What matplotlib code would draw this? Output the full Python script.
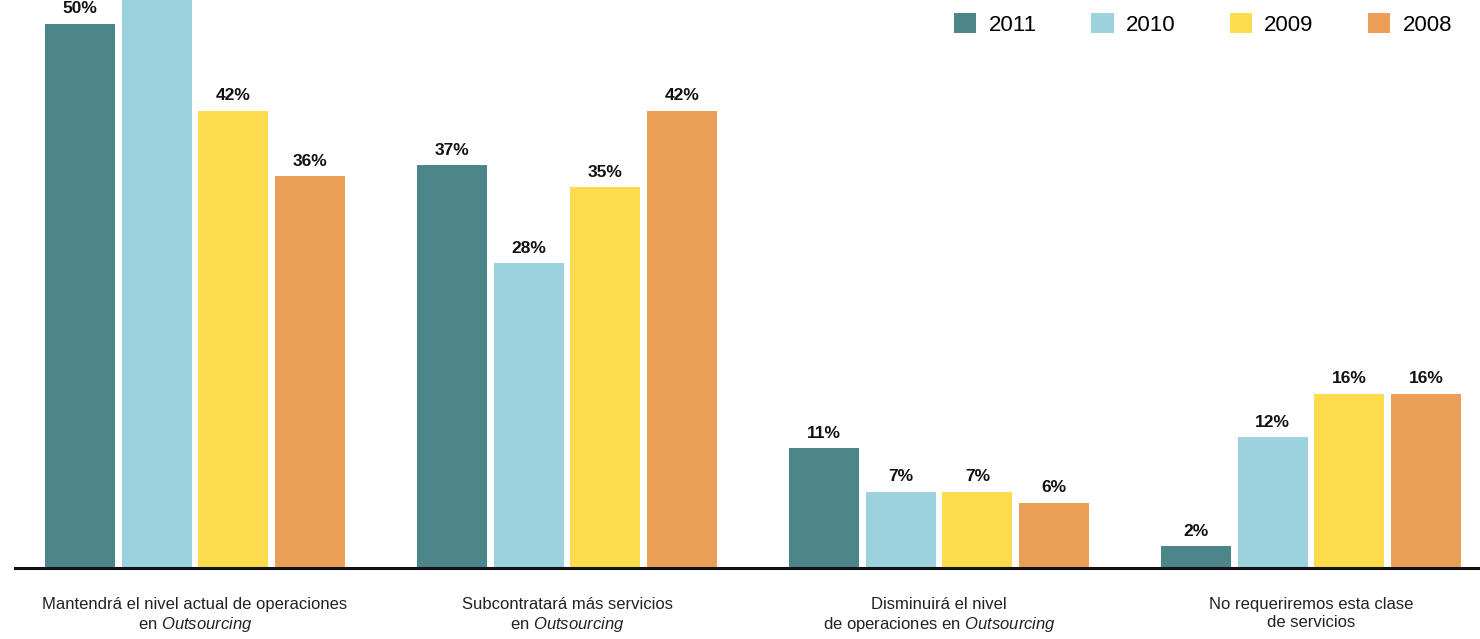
import matplotlib
matplotlib.use('Agg')
import matplotlib.pyplot as plt
import numpy as np
from matplotlib.patches import Patch

categories = [
    'Mantendrá el nivel actual de operaciones\nen $\\mathit{Outsourcing}$',
    'Subcontratará más servicios\nen $\\mathit{Outsourcing}$',
    'Disminuirá el nivel\nde operaciones en $\\mathit{Outsourcing}$',
    'No requeriremos esta clase\nde servicios',
]
years = ['2011', '2010', '2009', '2008']
v2011 = [50, 37, 11, 2]
v2010 = [55, 28, 7, 12]
v2009 = [42, 35, 7, 16]
v2008 = [36, 42, 6, 16]
series = [v2011, v2010, v2009, v2008]
colors = ['#4C868B', '#9BD2DE', '#FEDC4E', '#EB9F57']

font = 'Liberation Sans'
plt.rcParams['font.family'] = [font, 'DejaVu Sans']
plt.rcParams['mathtext.fontset'] = 'custom'
plt.rcParams['mathtext.rm'] = font
plt.rcParams['mathtext.it'] = font + ':italic'

fig = plt.figure(figsize=(14.8, 6.39), dpi=100)
ax = fig.add_axes([15 / 1480, 71 / 639, 1465 / 1480, 568 / 639])

x = np.arange(len(categories))
step = 0.206
width = 0.188
for i, (vals, col) in enumerate(zip(series, colors)):
    pos = x + (i - 1.5) * step
    bars = ax.bar(pos, vals, width, color=col, label=years[i], zorder=2)
    for b, v in zip(bars, vals):
        ax.annotate('%d%%' % v, (b.get_x() + b.get_width() / 2, v),
                    xytext=(0, 5.5), textcoords='offset points',
                    ha='center', va='bottom', fontsize=12.5,
                    fontweight='bold', color='#111111')

ax.set_xlim(-0.484, 3.454)
ax.set_ylim(0, 568 / 10.88)
for s in ['top', 'right', 'left']:
    ax.spines[s].set_visible(False)
ax.spines['bottom'].set_linewidth(2.2)
ax.spines['bottom'].set_color('#111111')
ax.set_yticks([])
ax.set_xticks(x)
ax.set_xticklabels(categories, fontsize=12, color='#222222', linespacing=1.22)
ax.tick_params(axis='x', length=0, pad=21)

handles = [Patch(facecolor=c, edgecolor='none') for c in colors]
fig.legend(handles, years, loc='upper right',
           bbox_to_anchor=(1452 / 1480, 1 - 13 / 639), ncol=4,
           frameon=False, fontsize=16, handlelength=1.0, handleheight=1.0,
           handletextpad=0.55, columnspacing=2.45, borderpad=0, borderaxespad=0)

fig.savefig('out.png', dpi=100)
